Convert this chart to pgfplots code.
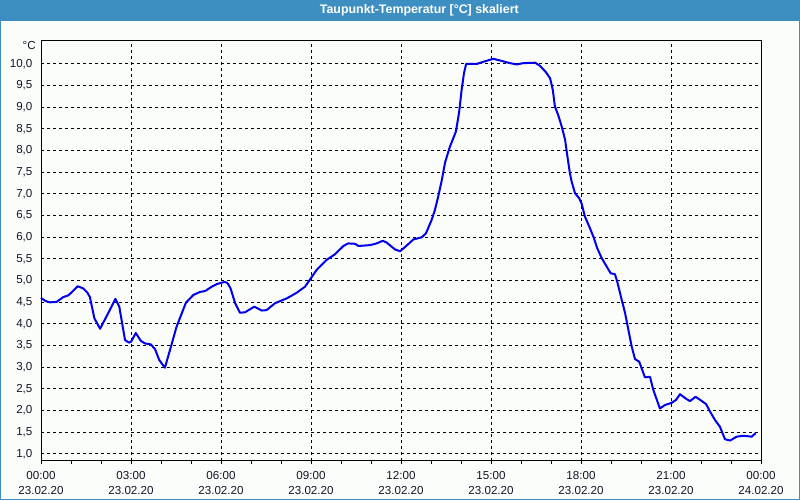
\documentclass[border=0pt]{standalone}
\usepackage{pgfplots}
\pgfplotsset{compat=1.18}
\usepackage{fontspec}
\setmainfont{Liberation Sans}
\definecolor{framebl}{RGB}{61,143,194}
\definecolor{bgc}{RGB}{251,253,251}
\definecolor{curve}{RGB}{0,0,235}
\definecolor{lbl}{RGB}{20,20,40}
\begin{document}
\begin{tikzpicture}
\useasboundingbox (0pt,0pt) rectangle (600pt,375pt);
\fill[bgc] (0pt,0pt) rectangle (600pt,375pt);
\fill[framebl] (0pt,359.25pt) rectangle (600pt,375pt);
\draw[framebl,line width=0.75pt] (0.375pt,0.375pt) rectangle (599.625pt,374.625pt);
\node[white,font=\fontsize{9.3}{11}\selectfont\bfseries] at (314.5pt,367.1pt) {Taupunkt-Temperatur [°C] skaliert};
\begin{axis}[
  at={(30.75pt,29.25pt)}, anchor=south west,
  scale only axis, width=540pt, height=315.4pt,
  xmin=0, xmax=24, ymin=0.838, ymax=10.543,
  axis line style={black,line width=0.75pt},
  xtick={0,3,...,24},
  xticklabels={{00:00\\23.02.20},{03:00\\23.02.20},{06:00\\23.02.20},{09:00\\23.02.20},{12:00\\23.02.20},{15:00\\23.02.20},{18:00\\23.02.20},{21:00\\23.02.20},{00:00\\24.02.20}},
  minor x tick num=2,
  xtick pos=lower, tick align=outside,
  major tick length=2.5pt, minor tick length=2.5pt,
  every tick/.style={black,line width=0.75pt},
  ytick={1,1.5,...,10.01},
  ytick style={draw=none},
  ymajorgrids, xmajorgrids,
  major grid style={black,line width=0.75pt,dash pattern=on 2.25pt off 2.25pt},
  /pgf/number format/assume math mode=true,
  yticklabel={\pgfmathprintnumber[fixed,fixed zerofill,precision=1,use comma]{\tick}},
  tick label style={font=\fontsize{8.7}{11.25}\selectfont, text=lbl},
  yticklabel style={inner sep=0pt, xshift=-3.75pt},
  xticklabel style={align=center, inner sep=0pt, yshift=-5pt},
  clip=false,
]
\addplot[curve, line width=1.5pt, line join=round] coordinates {
(0,4.60) (0.15,4.53) (0.3,4.50) (0.52,4.51) (0.74,4.62) (0.91,4.66) (1.05,4.75) (1.22,4.87) (1.41,4.82) (1.55,4.72) (1.63,4.62) (1.78,4.13) (1.97,3.89) (2.24,4.25) (2.48,4.58) (2.61,4.40) (2.8,3.63) (2.93,3.57) (3.0,3.59) (3.16,3.79) (3.33,3.61) (3.47,3.55) (3.66,3.53) (3.8,3.42) (3.94,3.17) (4.13,2.99) (4.3,3.40) (4.52,3.94) (4.83,4.49) (5.08,4.67) (5.3,4.74) (5.47,4.76) (5.69,4.86) (5.86,4.92) (6.0,4.95) (6.13,4.97) (6.22,4.94) (6.32,4.82) (6.47,4.48) (6.63,4.26) (6.8,4.27) (7.11,4.40) (7.36,4.31) (7.52,4.32) (7.8,4.48) (8.19,4.59) (8.52,4.72) (8.8,4.86) (8.99,5.05) (9.19,5.25) (9.52,5.48) (9.8,5.61) (10.08,5.80) (10.24,5.86) (10.47,5.85) (10.58,5.80) (10.97,5.82) (11.19,5.86) (11.39,5.92) (11.52,5.88) (11.8,5.72) (11.97,5.68) (12.19,5.81) (12.41,5.95) (12.69,6.00) (12.83,6.09) (13.02,6.40) (13.13,6.63) (13.24,6.94) (13.36,7.32) (13.47,7.73) (13.63,8.09) (13.83,8.44) (13.94,8.90) (14.02,9.40) (14.1,9.79) (14.17,10.0) (14.52,10.0) (14.74,10.05) (15.08,10.12) (15.36,10.07) (15.63,10.02) (15.86,9.99) (16.08,10.02) (16.47,10.03) (16.63,9.96) (16.82,9.82) (16.97,9.67) (17.06,9.40) (17.13,9.02) (17.24,8.82) (17.36,8.55) (17.47,8.25) (17.54,7.90) (17.63,7.48) (17.69,7.28) (17.8,7.02) (17.94,6.90) (18.02,6.78) (18.13,6.48) (18.3,6.21) (18.41,6.02) (18.54,5.75) (18.69,5.52) (18.86,5.32) (18.99,5.17) (19.13,5.15) (19.21,4.97) (19.36,4.55) (19.47,4.25) (19.58,3.86) (19.69,3.48) (19.8,3.19) (19.94,3.13) (20.02,2.98) (20.13,2.77) (20.3,2.78) (20.41,2.48) (20.63,2.05) (20.8,2.13) (21.02,2.18) (21.17,2.25) (21.3,2.38) (21.47,2.29) (21.63,2.22) (21.82,2.32) (21.97,2.25) (22.17,2.15) (22.3,1.98) (22.47,1.78) (22.63,1.63) (22.8,1.34) (22.97,1.31) (23.19,1.40) (23.41,1.42) (23.69,1.40) (23.82,1.48)
};
\node[anchor=east, inner sep=0pt, xshift=-3.75pt, font=\fontsize{8.7}{11.25}\selectfont, text=lbl] at (axis cs:0,10.42) {°C};
\end{axis}
\end{tikzpicture}
\end{document}
